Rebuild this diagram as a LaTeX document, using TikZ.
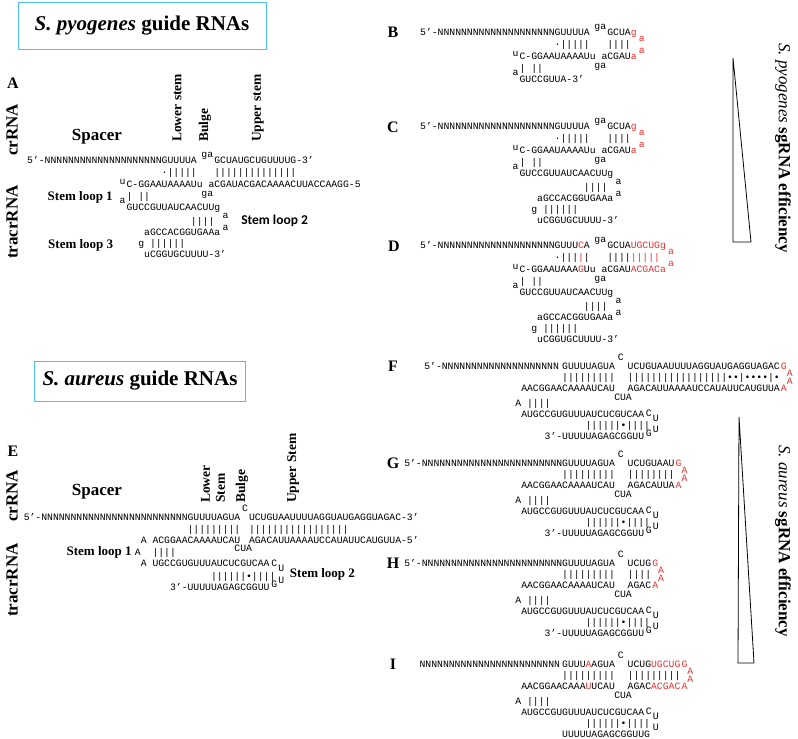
\documentclass[tikz,border=0pt]{standalone}
\usepackage{fontspec}
\setmainfont{Liberation Serif}
\setmonofont{Liberation Mono}
\newfontfamily\calib{Carlito}
\usetikzlibrary{positioning}
\definecolor{boxblue}{RGB}{79,193,233}
\definecolor{mutred}{RGB}{232,48,48}
\tikzstyle{seq}=[font=\fontsize{9.75}{10}\selectfont\ttfamily,anchor=west,
inner sep=0pt,text height=6.5pt,text depth=0pt]
\tikzstyle{mut}=[seq,text=mutred]
\tikzstyle{panel}=[font=\fontsize{16}{16}\selectfont\bfseries,inner sep=0pt]
\tikzstyle{region}=[font=\fontsize{13.5}{15}\selectfont\bfseries,rotate=90,
anchor=west,inner sep=0pt,align=left]
\tikzstyle{strand}=[font=\fontsize{17}{17}\selectfont\bfseries,rotate=90,
inner sep=0pt]
\tikzstyle{loopname}=[font=\fontsize{13}{13}\selectfont\bfseries,inner sep=0pt]
\tikzstyle{loopsans}=[font=\fontsize{13.5}{14}\selectfont\calib\bfseries,
inner sep=0pt]
\tikzstyle{titlebox}=[draw=boxblue,line width=0.9pt,inner sep=0pt,
font=\fontsize{21}{21}\selectfont\bfseries]
\tikzstyle{efficiency}=[font=\fontsize{17}{17}\selectfont\bfseries,rotate=-90,
inner sep=0pt]
\newcommand{\mutc}[1]{\textcolor{mutred}{#1}}

% bulge and stem loop 1 of the S. pyogenes guide
\newcommand{\pyohead}[1]{
  \node[seq] (#1-ga) at (6.8,-6) {ga};
  \node[seq] (#1-gb) at (6.8,33) {ga};
  \node[seq] (#1-u) at (-7.2,21) {u};
  \node[seq] (#1-a) at (-7.2,40) {a};
  \node[seq] (#1-p1) at (-6,36) {| ||};
}
% stem loops 2 and 3 of the S. pyogenes tracrRNA
\newcommand{\pyotail}[1]{
  \node[seq] (#1-s2a) at (-6,47) {GUCCGUUAUCAACUUg};
  \node[seq] (#1-l2a) at (10.4,55) {a};
  \node[seq] (#1-p2) at (5,61) {||||};
  \node[seq] (#1-l2b) at (10.4,67) {a};
  \node[seq] (#1-s2b) at (-3,72) {aGCCACGGUGAAa};
  \node[seq] (#1-p3) at (-4,83) {g ||||||};
  \node[seq] (#1-s3) at (-3,94) {uCGGUGCUUUU-3’};
}
% stem loops 1 and 2 of the S. aureus tracrRNA
\newcommand{\aurtail}[1]{
  \node[seq] (#1-a1) at (-8,37) {A};
  \node[seq] (#1-p1) at (-6,37) {||||};
  \node[seq] (#1-s1) at (-7,48) {AUGCCGUGUUUAUCUCGUCAA};
  \node[seq] (#1-c) at (14.3,47) {C};
  \node[seq] (#1-u1) at (15.5,52) {U};
  \node[seq] (#1-p2) at (4,59) {||||||•||||};
  \node[seq] (#1-u2) at (15.5,63) {U};
}
% GAAA loop joining crRNA and tracrRNA
\newcommand{\gaaa}[2]{
  \node[mut] (#1-lg) at (#2,0) {G};
  \node[mut] (#1-la) at (#2+1,7) {A};
  \node[mut] (#1-lb) at (#2+1,15) {A};
  \node[mut] (#1-lc) at (#2,22) {A};
}

\begin{document}
\begin{tikzpicture}[x=1pt,y=-1pt]
\useasboundingbox (0,0) rectangle (798,739);

% titles
\node[titlebox,minimum width=248pt,minimum height=47pt] (pyo-title) at (142,26)
  {\textit{S. pyogenes} guide RNAs};
\node[titlebox,minimum width=211pt,minimum height=40pt] (aur-title) at (140,381)
  {\textit{S. aureus} guide RNAs};

% panel letters
\node[panel] (lab-a) at (13,83) {A};
\node[panel] (lab-b) at (393,32) {B};
\node[panel] (lab-c) at (393,127) {C};
\node[panel] (lab-d) at (394,246) {D};
\node[panel] (lab-e) at (13,451) {E};
\node[panel] (lab-f) at (393,366) {F};
\node[panel] (lab-g) at (393,463) {G};
\node[panel] (lab-h) at (393,563) {H};
\node[panel] (lab-i) at (393,664) {I};

% annotation of A
\node[strand] (a-crrna) at (12,130) {crRNA};
\node[strand] (a-tracr) at (12,222) {tracrRNA};
\node[font=\fontsize{17}{17}\selectfont\bfseries] (a-spacer) at (97,137) {Spacer};
\node[region] (a-lower) at (177,142) {Lower stem};
\node[region] (a-bulge) at (205,142) {Bulge};
\node[region] (a-upper) at (258,142) {Upper stem};

\begin{scope}[shift={(161.5,160)},x=5.85pt]
  \node[seq] (a-cr) at (-23,0) {5’-NNNNNNNNNNNNNNNNNNNNGUUUUA};
  \node[seq] (a-up) at (9,0) {GCUAUGCUGUUUUG-3’};
  \pyohead{a}
  \node[seq] (a-pl) at (0,12) {·|||||};
  \node[seq] (a-pu) at (9,12) {||||||||||||||};
  \node[seq] (a-tr) at (-6,24) {C-GGAAUAAAAUu};
  \node[seq] (a-tu) at (8,24) {aCGAUACGACAAAACUUACCAAGG-5};
  \pyotail{a}
  \node[loopname,anchor=east] (a-sl1) at (-8.3,37) {Stem loop 1};
  \node[loopsans,anchor=west] (a-sl2) at (13.6,61) {Stem loop 2};
  \node[loopname,anchor=west] (a-sl3) at (-19.4,85) {Stem loop 3};
\end{scope}

% B
\begin{scope}[shift={(554.5,32)},x=5.85pt]
  \node[seq] (b-cr) at (-23,0) {5’-NNNNNNNNNNNNNNNNNNNNGUUUUA};
  \node[seq] (b-up) at (9,0) {GCUA\mutc{g}};
  \pyohead{b}
  \node[seq] (b-pl) at (0,12) {·|||||};
  \node[seq] (b-pu) at (9,12) {||||};
  \node[mut] (b-l1) at (14.4,6) {a};
  \node[mut] (b-l2) at (14.4,18) {a};
  \node[seq] (b-tr) at (-6,24) {C-GGAAUAAAAUu};
  \node[seq] (b-tu) at (8,24) {aCGAU\mutc{a}};
  \node[seq] (b-end) at (-6,47) {GUCCGUUA-3’};
\end{scope}

% C
\begin{scope}[shift={(554.5,126)},x=5.85pt]
  \node[seq] (c-cr) at (-23,0) {5’-NNNNNNNNNNNNNNNNNNNNGUUUUA};
  \node[seq] (c-up) at (9,0) {GCUA\mutc{g}};
  \pyohead{c}
  \node[seq] (c-pl) at (0,12) {·|||||};
  \node[seq] (c-pu) at (9,12) {||||};
  \node[mut] (c-l1) at (14.4,6) {a};
  \node[mut] (c-l2) at (14.4,18) {a};
  \node[seq] (c-tr) at (-6,24) {C-GGAAUAAAAUu};
  \node[seq] (c-tu) at (8,24) {aCGAU\mutc{a}};
  \pyotail{c}
\end{scope}

% D
\begin{scope}[shift={(554.5,245)},x=5.85pt]
  \node[seq] (d-cr) at (-23,0) {5’-NNNNNNNNNNNNNNNNNNNNGUUU\mutc{C}A};
  \node[seq] (d-up) at (9,0) {GCUA\mutc{UGCUGg}};
  \pyohead{d}
  \node[seq] (d-pl) at (0,12) {·|||\mutc{|}|};
  \node[seq] (d-pu) at (9,12) {||||\mutc{|||||}};
  \node[mut] (d-l1) at (19.4,6) {a};
  \node[mut] (d-l2) at (19.4,18) {a};
  \node[seq] (d-tr) at (-6,24) {C-GGAAUAAA\mutc{G}Uu};
  \node[seq] (d-tu) at (8,24) {aCGAU\mutc{ACGACa}};
  \pyotail{d}
\end{scope}

% S. pyogenes efficiency
\draw[line width=0.8pt] (733,58) -- (733,242) -- (751,242) -- cycle;
\node[efficiency] (pyo-eff) at (783,148) {\textit{\mdseries S. pyogenes} sgRNA efficiency};

% annotation of E
\node[strand] (e-crrna) at (12,496) {crRNA};
\node[strand] (e-tracr) at (12,580) {tracrRNA};
\node[font=\fontsize{17}{17}\selectfont\bfseries] (e-spacer) at (97,492) {Spacer};
\node[region] (e-lower) at (213,503) {Lower\\Stem};
\node[region] (e-bulge) at (242,503) {Bulge};
\node[region] (e-upper) at (293,503) {Upper Stem};

\begin{scope}[shift={(187.4,517)},x=5.85pt]
  \node[seq] (e-cr) at (-28,0) {5’-NNNNNNNNNNNNNNNNNNNNNNNNNGUUUUAGUA};
  \node[seq] (e-c) at (9.3,-9) {C};
  \node[seq] (e-up) at (10.5,0) {UCUGUAAUUUUAGGUAUGAGGUAGAC-3’};
  \node[seq] (e-pl) at (0,12) {|||||||||};
  \node[seq] (e-pu) at (10.5,12) {|||||||||||||||||};
  \node[seq] (e-a0) at (-8,23) {A};
  \node[seq] (e-tr) at (-6,23) {ACGGAACAAAAUCAU};
  \node[seq] (e-cua) at (8,31) {CUA};
  \node[seq] (e-tu) at (10.5,23) {AGACAUUAAAAUCCAUAUUCAUGUUA-5’};
  \node[seq] (e-a1) at (-9,35) {A};
  \node[seq] (e-p1) at (-6,35) {||||};
  \node[seq] (e-a2) at (-8,46) {A};
  \node[seq] (e-s1) at (-6,46) {UGCCGUGUUUAUCUCGUCAA};
  \node[seq] (e-sc) at (14.3,46) {C};
  \node[seq] (e-u1) at (15.5,51) {U};
  \node[seq] (e-p2) at (4,59) {||||||•||||};
  \node[seq] (e-u2) at (15.5,63) {U};
  \node[seq] (e-end) at (-3,70) {3’-UUUUUAGAGCGGUU};
  \node[seq] (e-g) at (14.3,67) {G};
  \node[loopname,anchor=east] (e-sl1) at (-9.5,35) {Stem loop 1};
  \node[loopname,anchor=west] (e-sl2) at (17.5,57) {Stem loop 2};
\end{scope}

% F
\begin{scope}[shift={(562,366)},x=5.85pt]
  \node[seq,anchor=east] (f-cr) at (-0.5,0) {5’-NNNNNNNNNNNNNNNNNNNN};
  \node[seq] (f-ls) at (0,0) {GUUUUAGUA};
  \node[seq] (f-c) at (9.5,-9) {C};
  \node[seq] (f-up) at (11.2,0) {UCUGUAAUUUUAGGUAUGAGGUAGAC};
  \node[seq] (f-pl) at (0,11) {|||||||||};
  \node[seq] (f-pu) at (11.2,11) {|||||||||||||||||••|••••|•};
  \node[seq] (f-tr) at (-7,22) {AACGGAACAAAAUCAU};
  \node[seq] (f-cua) at (8.9,31) {CUA};
  \node[seq] (f-tu) at (11.2,22) {AGACAUUAAAAUCCAUAUUCAUGUUA};
  \gaaa{f}{37.4}
  \aurtail{f}
  \node[seq] (f-end) at (-3,70) {3’-UUUUUAGAGCGGUU};
  \node[seq] (f-g) at (14.3,67) {G};
\end{scope}

% G
\begin{scope}[shift={(562,463)},x=5.85pt]
  \node[seq] (g-cr) at (-27,0) {5’-NNNNNNNNNNNNNNNNNNNNNNNNGUUUUAGUA};
  \node[seq] (g-c) at (9.5,-9) {C};
  \node[seq] (g-up) at (11.2,0) {UCUGUAAU};
  \node[seq] (g-pl) at (0,11) {|||||||||};
  \node[seq] (g-pu) at (11.2,11) {||||||||};
  \node[seq] (g-tr) at (-7,22) {AACGGAACAAAAUCAU};
  \node[seq] (g-cua) at (8.9,31) {CUA};
  \node[seq] (g-tu) at (11.2,22) {AGACAUUA};
  \gaaa{g}{19.4}
  \aurtail{g}
  \node[seq] (g-end) at (-3,70) {3’-UUUUUAGAGCGGUU};
  \node[seq] (g-g) at (14.3,67) {G};
\end{scope}

% H
\begin{scope}[shift={(562,563)},x=5.85pt]
  \node[seq] (h-cr) at (-27,0) {5’-NNNNNNNNNNNNNNNNNNNNNNNNGUUUUAGUA};
  \node[seq] (h-c) at (9.5,-9) {C};
  \node[seq] (h-up) at (11.2,0) {UCUG};
  \node[seq] (h-pl) at (0,11) {|||||||||};
  \node[seq] (h-pu) at (11.2,11) {||||};
  \node[seq] (h-tr) at (-7,22) {AACGGAACAAAAUCAU};
  \node[seq] (h-cua) at (8.9,31) {CUA};
  \node[seq] (h-tu) at (11.2,22) {AGAC};
  \gaaa{h}{15.4}
  \aurtail{h}
  \node[seq] (h-end) at (-3,70) {3’-UUUUUAGAGCGGUU};
  \node[seq] (h-g) at (14.3,67) {G};
\end{scope}

% I
\begin{scope}[shift={(562,664)},x=5.85pt]
  \node[seq,anchor=east] (i-cr) at (-0.3,0) {NNNNNNNNNNNNNNNNNNNNNNNN};
  \node[seq] (i-ls) at (0,0) {GUUU\mutc{A}AGUA};
  \node[seq] (i-c) at (9.5,-9) {C};
  \node[seq] (i-up) at (11.2,0) {UCUG\mutc{UGCUG}};
  \node[seq] (i-pl) at (0,11) {|||||||||};
  \node[seq] (i-pu) at (11.2,11) {|||||||||};
  \node[seq] (i-tr) at (-7,22) {AACGGAACAAA\mutc{U}UCAU};
  \node[seq] (i-cua) at (8.9,31) {CUA};
  \node[seq] (i-tu) at (11.2,22) {AGAC\mutc{ACGAC}};
  \gaaa{i}{20.4}
  \aurtail{i}
  \node[seq] (i-end) at (0,70) {UUUUUAGAGCGGUUG};
\end{scope}

% S. aureus efficiency
\draw[line width=0.8pt] (739,417) -- (738,663) -- (754,663) -- cycle;
\node[efficiency] (aur-eff) at (783,541) {\textit{\mdseries S. aureus} sgRNA efficiency};
\end{tikzpicture}
\end{document}
